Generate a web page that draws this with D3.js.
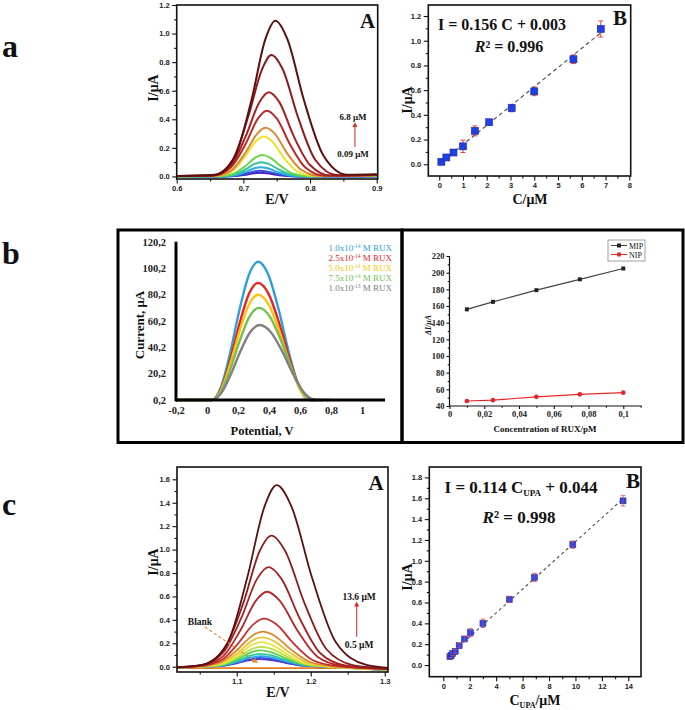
<!DOCTYPE html>
<html><head><meta charset="utf-8">
<script src="https://cdn.jsdelivr.net/npm/d3@7"></script>
<style>body{margin:0;background:#fff}svg{display:block}</style>
</head><body>
<svg id="fig" width="685" height="710"></svg>
<script>
// ================= DATA =================
// Panel a-A : DPV curves (E/V, I/µA), largest first
const aA_xTicks = [0.6, 0.7, 0.8, 0.9];
const aA_yTicks = [0, 0.2, 0.4, 0.6, 0.8, 1.0, 1.2];
const aA_colors = ['#5b0f0f','#8e1b1b','#a82222','#bb2a2a','#d98a2e','#e9e22e','#66d64a','#2fc39a','#2aaee6','#2f4fe3','#4b22b5'];
const aA_curves = [
 [[.60,.003],[.658,.012],[.688,.147],[.712,.531],[.733,.961],[.748,1.09],[.766,.961],[.791,.531],[.820,.147],[.856,.012],[.90,.015]],
 [[.60,.003],[.655,.009],[.684,.115],[.707,.414],[.728,.750],[.742,.85],[.759,.750],[.782,.414],[.808,.115],[.841,.009],[.90,.012]],
 [[.60,.003],[.654,.006],[.682,.080],[.704,.287],[.724,.520],[.738,.59],[.754,.520],[.775,.287],[.800,.080],[.831,.006],[.90,.010]],
 [[.60,.003],[.654,.005],[.681,.062],[.703,.224],[.722,.406],[.735,.46],[.750,.406],[.770,.224],[.793,.062],[.822,.005],[.90,.010]],
 [[.60,.002],[.658,.004],[.683,.046],[.703,.166],[.721,.300],[.733,.34],[.747,.300],[.765,.166],[.787,.046],[.814,.004],[.90,.008]],
 [[.60,.002],[.661,.003],[.684,.038],[.702,.136],[.719,.247],[.730,.28],[.743,.247],[.760,.136],[.780,.038],[.805,.003],[.90,.006]],
 [[.60,.001],[.665,.002],[.686,.020],[.703,.073],[.718,.132],[.728,.15],[.740,.132],[.756,.073],[.774,.020],[.797,.002],[.90,.004]],
 [[.60,0],[.667,.001],[.687,.0135],[.703,.049],[.717,.088],[.727,.10],[.738,.088],[.753,.049],[.771,.0135],[.793,.001],[.90,.002]],
 [[.60,0],[.669,.001],[.688,.009],[.703,.032],[.7165,.057],[.726,.065],[.7365,.057],[.751,.032],[.768,.009],[.789,.001],[.90,.001]],
 [[.60,0],[.671,0],[.689,.0054],[.7034,.0195],[.716,.035],[.725,.04],[.735,.035],[.749,.0195],[.765,.0054],[.785,0],[.90,0]],
 [[.60,0],[.671,0],[.689,.0034],[.7034,.012],[.716,.022],[.725,.025],[.735,.022],[.749,.012],[.765,.0034],[.785,0],[.90,0]]
];
const aA_range = ['6.8 μM', '0.09 μM'];

// Panel a-B : calibration
const aB_xTicks = [0,1,2,3,4,5,6,7,8];
const aB_yTicks = [0, 0.2, 0.4, 0.6, 0.8, 1.0, 1.2];
const aB_conc    = [0.09, 0.3, 0.6, 1.0, 1.5, 2.1, 3.05, 4.0, 5.65, 6.8];
const aB_current = [0.02, 0.055, 0.095, 0.145, 0.27, 0.34, 0.455, 0.59, 0.85, 1.095];
const aB_err     = [0.02, 0.02, 0.02, 0.05, 0.04, 0.02, 0.03, 0.035, 0.035, 0.065];
const aB_fit = [0.156, 0.003];   // slope, intercept

// Panel b-left : DPV of RUX
const bL_xTicks  = [-0.2, 0, 0.2, 0.4, 0.6, 0.8, 1];
const bL_xLabels = ['-0,2','0','0,2','0,4','0,6','0,8','1'];
const bL_yTicks  = [0.2, 20.2, 40.2, 60.2, 80.2, 100.2, 120.2];
const bL_yLabels = ['0,2','20,2','40,2','60,2','80,2','100,2','120,2'];
const bL_names  = [['1.0x10','-14'],['2.5x10','-14'],['5.0x10','-14'],['7.5x10','-14'],['1.0x10','-13']];
const bL_colors = ['#2e9fd9','#e8231f','#ffc20e','#74c150','#808080'];
const bL_curves = [
 [[-0.2,0.2],[0.03,0.2],[0.09,10.0],[0.15,36.2],[0.21,68.8],[0.27,95.0],[0.33,105],[0.396,95.0],[0.462,68.8],[0.528,36.2],[0.594,10.0],[0.66,0.2],[0.70,0.2]],
 [[-0.2,0.2],[0.03,0.2],[0.09,8.5],[0.15,30.7],[0.21,58.3],[0.27,80.5],[0.33,89],[0.398,80.5],[0.466,58.3],[0.534,30.7],[0.602,8.5],[0.67,0.2],[0.70,0.2]],
 [[-0.2,0.2],[0.03,0.2],[0.09,7.6],[0.15,27.6],[0.21,52.4],[0.27,72.4],[0.33,80],[0.398,72.4],[0.466,52.4],[0.534,27.6],[0.602,7.6],[0.67,0.2],[0.70,0.2]],
 [[-0.2,0.2],[0.03,0.2],[0.091,6.7],[0.152,24.2],[0.213,45.9],[0.274,63.4],[0.335,70],[0.405,63.4],[0.475,45.9],[0.545,24.2],[0.615,6.7],[0.685,0.2],[0.75,0.2]],
 [[-0.2,0.2],[0.03,0.2],[0.092,5.4],[0.154,19.7],[0.216,37.3],[0.278,51.6],[0.34,57],[0.412,51.6],[0.484,37.3],[0.556,19.7],[0.628,5.4],[0.70,0.2],[0.80,0.2]]
];

// Panel b-right : MIP vs NIP
const bR_xTicks  = [0, 0.02, 0.04, 0.06, 0.08, 0.1];
const bR_xLabels = ['0','0,02','0,04','0,06','0,08','0,1'];
const bR_yTicks  = [40, 60, 80, 100, 120, 140, 160, 180, 200, 220];
const bR_conc = [0.01, 0.025, 0.05, 0.075, 0.1];
const bR_MIP  = [156, 165, 179, 192, 205];
const bR_NIP  = [46, 47, 51, 54, 56];

// Panel c-A : DPV curves
const cA_xTicks = [1.1, 1.2, 1.3];
const cA_yTicks = [0, 0.2, 0.4, 0.6, 0.8, 1.0, 1.2, 1.4, 1.6];
const cA_colors = ['#5c1010','#8c1c1c','#a52222','#b62626','#c42d2d','#d98b2e','#e9c637','#e8e33c','#b9e045','#5fd04b','#30c89c','#27a9ea','#3a4de2','#6a2db9'];
const cA_curves = [
 [[1.02,-.005],[1.055,.017],[1.088,.209],[1.114,.755],[1.1375,1.367],[1.154,1.55],[1.174,1.367],[1.202,.755],[1.234,.209],[1.274,.017],[1.304,-.01]],
 [[1.02,-.005],[1.051,.012],[1.083,.151],[1.109,.545],[1.131,.988],[1.147,1.12],[1.1655,.988],[1.1914,.545],[1.221,.151],[1.258,.012],[1.304,-.015]],
 [[1.02,-.005],[1.050,.009],[1.081,.115],[1.106,.414],[1.1275,.750],[1.143,.85],[1.1605,.750],[1.185,.414],[1.213,.115],[1.248,.009],[1.304,-.018]],
 [[1.02,-.005],[1.051,.007],[1.081,.086],[1.105,.312],[1.126,.564],[1.141,.64],[1.158,.564],[1.1818,.312],[1.209,.086],[1.243,.007],[1.304,-.02]],
 [[1.02,-.005],[1.050,.0045],[1.079,.055],[1.102,.200],[1.1225,.362],[1.137,.41],[1.1535,.362],[1.1766,.200],[1.203,.055],[1.236,.0045],[1.304,-.02]],
 [[1.02,-.005],[1.051,.0033],[1.079,.0405],[1.101,.146],[1.121,.265],[1.135,.30],[1.151,.265],[1.1734,.146],[1.199,.0405],[1.231,.0033],[1.304,-.022]],
 [[1.02,-.005],[1.053,.0028],[1.080,.034],[1.102,.122],[1.1205,.221],[1.134,.25],[1.1495,.221],[1.1712,.122],[1.196,.034],[1.227,.0028],[1.304,-.022]],
 [[1.02,-.005],[1.055,.0023],[1.081,.028],[1.102,.102],[1.120,.185],[1.133,.21],[1.148,.185],[1.169,.102],[1.193,.028],[1.223,.0023],[1.304,-.024]],
 [[1.02,-.005],[1.055,.0019],[1.081,.023],[1.102,.083],[1.120,.150],[1.133,.17],[1.148,.150],[1.169,.083],[1.193,.023],[1.223,.0019],[1.304,-.024]],
 [[1.02,-.005],[1.057,.0015],[1.082,.019],[1.102,.068],[1.1195,.123],[1.132,.14],[1.147,.123],[1.168,.068],[1.192,.019],[1.222,.0015],[1.304,-.026]],
 [[1.02,-.005],[1.057,.0012],[1.082,.0149],[1.102,.054],[1.1195,.097],[1.132,.11],[1.147,.097],[1.168,.054],[1.192,.0149],[1.222,.0012],[1.304,-.026]],
 [[1.02,-.005],[1.057,.001],[1.082,.012],[1.102,.044],[1.1195,.079],[1.132,.09],[1.147,.079],[1.168,.044],[1.192,.012],[1.222,.001],[1.304,-.028]],
 [[1.02,-.005],[1.056,.0008],[1.081,.010],[1.101,.0365],[1.1185,.066],[1.131,.075],[1.146,.066],[1.167,.0365],[1.191,.010],[1.221,.0008],[1.304,-.028]],
 [[1.02,-.005],[1.056,.0007],[1.081,.0088],[1.101,.0317],[1.1185,.0573],[1.131,.065],[1.146,.0573],[1.167,.0317],[1.191,.0088],[1.221,.0007],[1.304,-.03]]
];
const cA_blank = [[1.02,-0.012],[1.304,-0.012]];
const cA_range = ['13.6 μM', '0.5 μM'];

// Panel c-B : calibration
const cB_xTicks = [0,2,4,6,8,10,12,14];
const cB_yTicks = [0,0.2,0.4,0.6,0.8,1.0,1.2,1.4,1.6,1.8];
const cB_conc    = [0.5, 0.6, 0.7, 0.9, 1.2, 1.6, 2.05, 3.0, 5.0, 6.9, 9.8, 13.6];
const cB_current = [0.08, 0.09, 0.11, 0.13, 0.185, 0.25, 0.31, 0.40, 0.63, 0.84, 1.155, 1.575];
const cB_err     = [0.02, 0.02, 0.02, 0.02, 0.02, 0.025, 0.04, 0.04, 0.03, 0.04, 0.035, 0.05];
const cB_fit = [0.114, 0.044];

// ================= DRAWING =================
const SERIF = "'Liberation Serif','Times New Roman',serif";
const SANS = "'Liberation Sans',Arial,sans-serif";
const svg = d3.select('#fig');
let clipN = 0;

function range(a, b, s){ const r=[]; for(let v=a; v<=b+1e-9; v+=s) r.push(+v.toFixed(4)); return r; }

function styleAx(sel, font, size, weight){
  sel.select('.domain').remove();
  sel.selectAll('line').attr('stroke','#111').attr('stroke-width',1.1);
  sel.selectAll('text').attr('font-family',font).attr('font-size',size)
     .attr('font-weight',weight).attr('fill','#222');
}

function originPanel(p){
  const x = d3.scaleLinear().domain(p.xd).range([p.L, p.R]);
  const y = d3.scaleLinear().domain(p.yd).range([p.B, p.T]);
  const g = svg.append('g');
  g.append('g').attr('transform',`translate(0,${p.B})`)
    .call(d3.axisBottom(x).tickValues(p.xm).tickFormat('').tickSize(2.5).tickSizeOuter(0))
    .call(styleAx, SANS, 7.5, 'bold');
  g.append('g').attr('transform',`translate(0,${p.B})`)
    .call(d3.axisBottom(x).tickValues(p.xt).tickFormat(p.fx).tickSize(4.5).tickPadding(2.5).tickSizeOuter(0))
    .call(styleAx, SANS, 7.5, 'bold');
  g.append('g').attr('transform',`translate(${p.L},0)`)
    .call(d3.axisLeft(y).tickValues(p.ym).tickFormat('').tickSize(2.5).tickSizeOuter(0))
    .call(styleAx, SANS, 7.5, 'bold');
  g.append('g').attr('transform',`translate(${p.L},0)`)
    .call(d3.axisLeft(y).tickValues(p.yt).tickFormat(p.fy).tickSize(4.5).tickPadding(2.5).tickSizeOuter(0))
    .call(styleAx, SANS, 7.5, 'bold');
  const id = 'clip' + (clipN++);
  svg.append('clipPath').attr('id', id).append('rect')
    .attr('x', p.L).attr('y', p.T).attr('width', p.R - p.L).attr('height', p.B - p.T);
  const plot = g.append('g').attr('clip-path', `url(#${id})`);
  g.append('rect').attr('x',p.L).attr('y',p.T).attr('width',p.R-p.L).attr('height',p.B-p.T)
    .attr('fill','none').attr('stroke','#111').attr('stroke-width',1.6);
  return {x, y, g, plot};
}

function text(x, y, s, o = {}){
  return svg.append('text').attr('x',x).attr('y',y).text(s)
    .attr('font-family', o.font || SERIF).attr('font-size', o.size || 14)
    .attr('font-weight', o.weight || 'bold').attr('fill', o.fill || '#111')
    .attr('text-anchor', o.anchor || 'middle')
    .attr('font-style', o.style || 'normal');
}
function vtext(x, y, s, o = {}){
  return svg.append('text').attr('transform',`translate(${x},${y}) rotate(-90)`).text(s)
    .attr('font-family', o.font || SERIF).attr('font-size', o.size || 14)
    .attr('font-weight', o.weight || 'bold').attr('fill', '#111')
    .attr('text-anchor','middle').attr('dominant-baseline','central')
    .attr('font-style', o.style || 'normal');
}

svg.append('defs').html(
  '<marker id="arrR" viewBox="0 0 10 10" refX="5" refY="5" markerWidth="5" markerHeight="5" orient="auto-start-reverse"><path d="M0,0 L10,5 L0,10 z" fill="#d22"/></marker>' +
  '<marker id="arrO" viewBox="0 0 10 10" refX="5" refY="5" markerWidth="5" markerHeight="5" orient="auto-start-reverse"><path d="M0,0 L10,5 L0,10 z" fill="#e08a2a"/></marker>');

const f1 = d3.format('.1f');
const lineGen = (x, y) => d3.line().x(d => x(d[0])).y(d => y(d[1])).curve(d3.curveMonotoneX);

// panel letters
text(2, 57, 'a', {size: 32, anchor: 'start'});
text(2, 264, 'b', {size: 32, anchor: 'start'});
text(2, 515, 'c', {size: 32, anchor: 'start'});

// ---------- a-A ----------
{
  const P = originPanel({L:176.7, R:377.7, T:5, B:179, xd:[0.6,0.9015], yd:[-0.018,1.2],
    xt:aA_xTicks, xm:[0.65,0.75,0.85], yt:aA_yTicks, ym:range(0.1,1.1,0.2), fx:f1, fy:f1});
  const lg = lineGen(P.x, P.y);
  aA_curves.map((c,i)=>({c,i})).reverse().forEach(({c,i}) => {
    P.plot.append('path').attr('d', lg(c)).attr('fill','none')
      .attr('stroke', aA_colors[i]).attr('stroke-width', 2);
  });
  svg.append('line').attr('x1',P.x(0.8674)).attr('x2',P.x(0.8674)).attr('y1',P.y(0.206)).attr('y2',P.y(0.362))
    .attr('stroke','#d22').attr('stroke-width',1).attr('marker-end','url(#arrR)');
  text(P.x(0.8645), P.y(0.395), aA_range[0], {size: 9});
  text(P.x(0.8645), P.y(0.136), aA_range[1], {size: 9});
  text(367.5, 28, 'A', {size: 21});
  vtext(153, 88, 'I/μA', {size: 14});
  text(277, 204, 'E/V', {size: 14});
}

// ---------- a-B ----------
{
  const P = originPanel({L:428.3, R:630.7, T:5, B:176, xd:[-0.46,8.06], yd:[-0.095,1.289],
    xt:aB_xTicks, xm:range(0.5,7.5,1), yt:aB_yTicks, ym:range(0.1,1.1,0.2), fx:d3.format('d'), fy:f1});
  const fitX = [0, d3.max(aB_conc)];
  P.plot.append('line').attr('x1',P.x(fitX[0])).attr('y1',P.y(aB_fit[0]*fitX[0]+aB_fit[1]))
    .attr('x2',P.x(fitX[1])).attr('y2',P.y(aB_fit[0]*fitX[1]+aB_fit[1]))
    .attr('stroke','#555').attr('stroke-width',1.2).attr('stroke-dasharray','4,3');
  aB_conc.forEach((c,i) => {
    const xx = P.x(c), y1 = P.y(aB_current[i]-aB_err[i]), y2 = P.y(aB_current[i]+aB_err[i]);
    P.plot.append('line').attr('x1',xx).attr('x2',xx).attr('y1',y1).attr('y2',y2).attr('stroke','#e03030').attr('stroke-width',0.9);
    [y1,y2].forEach(yy => P.plot.append('line').attr('x1',xx-2.5).attr('x2',xx+2.5).attr('y1',yy).attr('y2',yy).attr('stroke','#e03030').attr('stroke-width',0.9));
    P.plot.append('rect').attr('x',xx-3.5).attr('y',P.y(aB_current[i])-3.5).attr('width',7).attr('height',7)
      .attr('fill','#1f3fe6').attr('stroke','#1a2a9a').attr('stroke-width',0.6);
  });
  text(502, 30, 'I = 0.156 C + 0.003', {size: 16});
  const r = text(509, 52, '', {size: 16});
  r.append('tspan').attr('font-style','italic').text('R');
  r.append('tspan').text('² = 0.996');
  text(620, 25, 'B', {size: 21});
  vtext(407, 100, 'I/μA', {size: 14});
  text(530, 204, 'C/μM', {size: 14});
}

// ---------- b frames ----------
svg.append('rect').attr('x',118).attr('y',230).attr('width',284).attr('height',212.5)
  .attr('fill','none').attr('stroke','#000').attr('stroke-width',3);
svg.append('rect').attr('x',402).attr('y',230).attr('width',281).attr('height',212.5)
  .attr('fill','none').attr('stroke','#000').attr('stroke-width',3);

// ---------- b-left ----------
{
  const x = d3.scaleLinear().domain([-0.2, 1.148]).range([176, 385]);
  const y = d3.scaleLinear().domain([0.2, 120.2]).range([400, 241.7]);
  const lg = lineGen(x, y);
  bL_curves.forEach((c,i) => {
    svg.append('path').attr('d', lg(c)).attr('fill','none').attr('stroke', bL_colors[i]).attr('stroke-width', 2.4);
  });
  svg.append('line').attr('x1',176).attr('x2',385).attr('y1',400).attr('y2',400).attr('stroke','#000').attr('stroke-width',3);
  svg.append('line').attr('x1',176).attr('x2',176).attr('y1',401.5).attr('y2',y(120.2)).attr('stroke','#000').attr('stroke-width',3);
  svg.append('g').attr('transform','translate(0,400)')
    .call(d3.axisBottom(x).tickValues(bL_xTicks).tickFormat((d,i)=>bL_xLabels[i]).tickSize(0).tickPadding(7))
    .call(styleAx, SERIF, 10.5, 'bold');
  svg.append('g').attr('transform','translate(176,0)')
    .call(d3.axisLeft(y).tickValues(bL_yTicks).tickFormat((d,i)=>bL_yLabels[i]).tickSize(0).tickPadding(10))
    .call(styleAx, SERIF, 10.5, 'bold');
  bL_names.forEach((n,i) => {
    const t = text(392, 251 + i*10, '', {size: 9, weight: 'normal', anchor: 'end', fill: bL_colors[i]});
    t.append('tspan').text(n[0]);
    t.append('tspan').attr('font-size',5.5).attr('dy',-3.5).text(n[1]);
    t.append('tspan').attr('dy',3.5).text(' M RUX');
  });
  vtext(139, 325, 'Current, μA', {size: 13});
  text(262, 435, 'Potential, V', {size: 12.5});
}

// ---------- b-right ----------
{
  const x = d3.scaleLinear().domain([0, 0.1106]).range([449.5, 641.7]);
  const y = d3.scaleLinear().domain([40, 220]).range([406, 256]);
  svg.append('g').attr('transform','translate(0,406)')
    .call(d3.axisBottom(x).tickValues(range(0.01,0.11,0.02)).tickFormat('').tickSize(1.8).tickSizeOuter(0))
    .call(styleAx, SERIF, 8.5, 'bold');
  svg.append('g').attr('transform','translate(0,406)')
    .call(d3.axisBottom(x).tickValues(bR_xTicks).tickFormat((d,i)=>bR_xLabels[i]).tickSize(3).tickPadding(2).tickSizeOuter(0))
    .call(styleAx, SERIF, 8.5, 'bold');
  svg.append('g').attr('transform','translate(449.5,0)')
    .call(d3.axisLeft(y).tickValues(range(50,210,20)).tickFormat('').tickSize(1.8).tickSizeOuter(0))
    .call(styleAx, SERIF, 8.5, 'bold');
  svg.append('g').attr('transform','translate(449.5,0)')
    .call(d3.axisLeft(y).tickValues(bR_yTicks).tickFormat(d3.format('d')).tickSize(3).tickPadding(2).tickSizeOuter(0))
    .call(styleAx, SERIF, 8.5, 'bold');
  svg.append('line').attr('x1',449.5).attr('x2',641.7).attr('y1',406).attr('y2',406).attr('stroke','#111').attr('stroke-width',1.2);
  svg.append('line').attr('x1',449.5).attr('x2',449.5).attr('y1',406).attr('y2',256).attr('stroke','#111').attr('stroke-width',1.2);
  const lp = d3.line().x((d,i)=>x(bR_conc[i])).y(d=>y(d));
  svg.append('path').attr('d', lp(bR_MIP)).attr('fill','none').attr('stroke','#444').attr('stroke-width',1.2);
  svg.append('path').attr('d', lp(bR_NIP)).attr('fill','none').attr('stroke','#e4262b').attr('stroke-width',1.2);
  bR_MIP.forEach((v,i) => svg.append('rect').attr('x',x(bR_conc[i])-2).attr('y',y(v)-2).attr('width',4).attr('height',4).attr('fill','#222'));
  bR_NIP.forEach((v,i) => svg.append('circle').attr('cx',x(bR_conc[i])).attr('cy',y(v)).attr('r',2.3).attr('fill','#e4262b'));
  // legend
  svg.append('rect').attr('x',608).attr('y',240).attr('width',37).attr('height',21).attr('fill','#fff').attr('stroke','#777').attr('stroke-width',0.7);
  svg.append('line').attr('x1',611).attr('x2',627).attr('y1',245.5).attr('y2',245.5).attr('stroke','#444').attr('stroke-width',1);
  svg.append('rect').attr('x',617).attr('y',243.5).attr('width',4).attr('height',4).attr('fill','#222');
  svg.append('line').attr('x1',611).attr('x2',627).attr('y1',254.5).attr('y2',254.5).attr('stroke','#e4262b').attr('stroke-width',1);
  svg.append('circle').attr('cx',619).attr('cy',254.5).attr('r',2.2).attr('fill','#e4262b');
  text(629, 248.5, 'MIP', {size: 8, weight: 'normal', anchor: 'start'});
  text(629, 257.5, 'NIP', {size: 8, weight: 'normal', anchor: 'start'});
  vtext(428, 325, 'ΔI/μA', {size: 8, style: 'italic'});
  text(545, 432, 'Concentration of RUX/pM', {size: 9});
}

// ---------- c-A ----------
{
  const P = originPanel({L:177, R:388, T:467, B:672, xd:[1.0193,1.3044], yd:[-0.045,1.705],
    xt:cA_xTicks, xm:[1.05,1.15,1.25], yt:cA_yTicks, ym:range(0.1,1.5,0.2), fx:f1, fy:f1});
  const lg = lineGen(P.x, P.y);
  P.plot.append('path').attr('d', lg(cA_blank)).attr('fill','none').attr('stroke','#e07b20').attr('stroke-width',1.8);
  cA_curves.map((c,i)=>({c,i})).reverse().forEach(({c,i}) => {
    P.plot.append('path').attr('d', lg(c)).attr('fill','none')
      .attr('stroke', cA_colors[i]).attr('stroke-width', 1.8);
  });
  svg.append('line').attr('x1',P.x(1.2621)).attr('x2',P.x(1.2621)).attr('y1',P.y(0.2565)).attr('y2',P.y(0.535))
    .attr('stroke','#d22').attr('stroke-width',1).attr('marker-end','url(#arrR)');
  text(P.x(1.2653), P.y(0.570), cA_range[0], {size: 9.5});
  text(P.x(1.2653), P.y(0.160), cA_range[1], {size: 9.5});
  text(200, 625, 'Blank', {size: 9.5});
  svg.append('line').attr('x1',P.x(1.0571)).attr('y1',P.y(0.339)).attr('x2',P.x(1.1255)).attr('y2',P.y(0.045))
    .attr('stroke','#e08a2a').attr('stroke-width',1.1).attr('stroke-dasharray','3,2.5').attr('marker-end','url(#arrO)');
  text(376, 490, 'A', {size: 21});
  vtext(153, 562, 'I/μA', {size: 14});
  text(278, 697, 'E/V', {size: 14});
}

// ---------- c-B ----------
{
  const P = originPanel({L:429.3, R:641, T:467, B:676.7, xd:[-1.06,14.96], yd:[-0.112,1.9],
    xt:cB_xTicks, xm:range(1,13,2), yt:cB_yTicks, ym:range(0.1,1.7,0.2), fx:d3.format('d'), fy:f1});
  const fitX = [d3.min(cB_conc), d3.max(cB_conc)];
  P.plot.append('line').attr('x1',P.x(fitX[0])).attr('y1',P.y(cB_fit[0]*fitX[0]+cB_fit[1]))
    .attr('x2',P.x(fitX[1])).attr('y2',P.y(cB_fit[0]*fitX[1]+cB_fit[1]))
    .attr('stroke','#555').attr('stroke-width',1.2).attr('stroke-dasharray','3,3');
  cB_conc.forEach((c,i) => {
    const xx = P.x(c), y1 = P.y(cB_current[i]-cB_err[i]), y2 = P.y(cB_current[i]+cB_err[i]);
    P.plot.append('rect').attr('x',xx-3).attr('y',P.y(cB_current[i])-3).attr('width',6).attr('height',6)
      .attr('fill','#2a4ae8').attr('stroke','#1a2a9a').attr('stroke-width',0.5);
    P.plot.append('line').attr('x1',xx).attr('x2',xx).attr('y1',y1).attr('y2',y2).attr('stroke','#e03a5a').attr('stroke-width',0.8).attr('opacity',0.8);
    [y1,y2].forEach(yy => P.plot.append('line').attr('x1',xx-2.2).attr('x2',xx+2.2).attr('y1',yy).attr('y2',yy).attr('stroke','#e03a5a').attr('stroke-width',0.8));
  });
  const eq = text(521, 493, '', {size: 17});
  eq.append('tspan').text('I = 0.114 C');
  eq.append('tspan').attr('font-size',9).attr('dy',3).text('UPA');
  eq.append('tspan').attr('dy',-3).text(' + 0.044');
  const r = text(519, 523, '', {size: 17});
  r.append('tspan').attr('font-style','italic').text('R');
  r.append('tspan').text('² = 0.998');
  text(633, 488, 'B', {size: 21});
  vtext(407, 577, 'I/μA', {size: 14});
  const xl = text(535, 705, '', {size: 14});
  xl.append('tspan').text('C');
  xl.append('tspan').attr('font-size',8).attr('dy',3).text('UPA');
  xl.append('tspan').attr('dy',-3).text('/μM');
}
</script>
</body></html>
